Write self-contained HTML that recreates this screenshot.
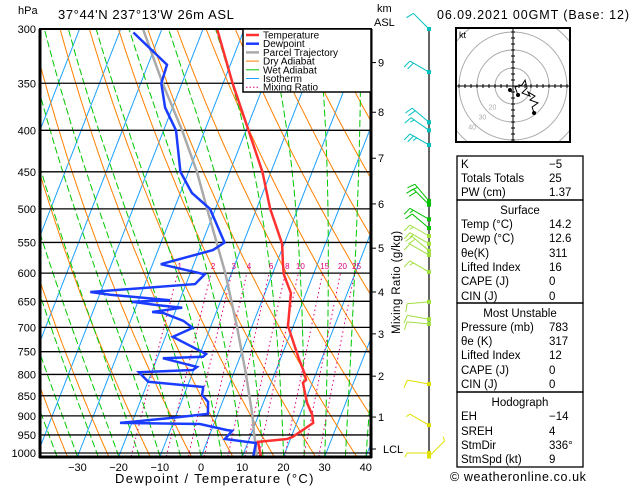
<!DOCTYPE html>
<html><head><meta charset="utf-8">
<style>
body{margin:0;background:#fff;}
svg{display:block;font-family:"Liberation Sans",sans-serif;}
</style></head>
<body>
<svg id="c" width="629" height="486" viewBox="0 0 629 486" xmlns="http://www.w3.org/2000/svg">
<defs><clipPath id="plotclip"><rect x="41" y="29" width="330" height="428"/></clipPath>
<clipPath id="hodoclip"><rect x="457" y="29" width="112" height="112"/></clipPath></defs>
<rect x="0" y="0" width="629" height="486" fill="#fff"/>
<g id="bg" clip-path="url(#plotclip)"></g>
<g id="isobars"></g>
<g id="profiles" clip-path="url(#plotclip)"></g>
<g id="axes"></g>
<g id="wind"></g>
<g id="hodo"></g>
<g id="table"></g>
</svg>
<script>
// ---- data ----
const pressureLevels=[300,350,400,450,500,550,600,650,700,750,800,850,900,950,1000];
const tempTicks=[-30,-20,-10,0,10,20,30,40];
const tempP=[1008,969,961,955,918,897,867,819,813,795,761,697,635,602,586,552,500,450,400,350,300];
const tempT=[14.4,12.4,19.2,20.4,24.0,23.0,20.6,17.7,18.2,17.0,14.1,8.7,6.3,2.8,1.7,-0.5,-6.7,-12.1,-19.4,-27.7,-36.6];
const dewP=[1008,972,969,961,939,937,921,918,905,895,865,848,829,817,795,790,783,764,761,755,719,701,687,672,670,662,657,651,648,638,633,619,602,585,562,550,500,478,450,400,375,350,332,303];
const dewT=[12.6,12.0,9.7,4.1,5.1,3.8,-3.4,-22.9,-10.5,-2.4,-3.5,-5.6,-6.1,-19.9,-23.1,-10.2,-9.5,-18.6,-9.0,-8.5,-18.2,-14.2,-17.2,-22.8,-25.6,-18.7,-25.0,-31.4,-22.4,-37.4,-42.5,-17.8,-16.4,-28.0,-16.7,-14.6,-21.3,-27.2,-32.0,-37.0,-41.8,-45.0,-45.4,-56.6];
const parcelP=[1008,970,950,900,800,700,600,500,450,400,350,300];
const parcelT=[13.4,11.8,10.8,8.6,3.1,-3.5,-11.5,-22.0,-28.0,-35.5,-44.7,-54.6];
const mixRatios=[1,2,3,4,6,8,10,15,20,25];
const kmValues=[1,2,3,4,5,6,7,8,9];
const kmPressures=[903,804,713,633,559,493,433,380,330];
const windP=[300,339,391,400,417,489,494,515,528,540,552,563,570,598,651,684,693,822,924,1000,1010];
const windDir=[315,300,310,305,300,320,315,300,310,300,300,310,300,300,265,280,275,280,300,270,45];
const windSpd=[10,20,20,15,25,20,20,15,10,15,15,20,10,15,10,10,10,10,5,5,5];
const hodoU=[-1.7,2.8,1.1,5,6.7,7.8,5,9.4,8.3,12.2,9.4,13.9,10.6,11.7];
const hodoV=[-2.2,-5,-0.6,0.6,3.3,-1.1,-3.9,-5.6,-3.3,-5.6,-7.8,-9.4,-11.7,-15];
// ---- scales ----
const NS='http://www.w3.org/2000/svg';
function Y(p){return 29+Math.log(p/300)/Math.log(1000/300)*424;}
function X(T,p){return 201+4.12*T+0.39*(457-Y(p));}
function el(tag,attrs,parent){const e=document.createElementNS(NS,tag);for(const k in attrs)e.setAttribute(k,attrs[k]);parent.appendChild(e);return e;}
const bg=document.getElementById('bg'),iso=document.getElementById('isobars'),prof=document.getElementById('profiles'),ax=document.getElementById('axes'),wind=document.getElementById('wind'),hodo=document.getElementById('hodo'),tbl=document.getElementById('table');
function pathFrom(ps,ts){let d='';for(let i=0;i<ps.length;i++){d+=(i?'L':'M')+X(ts[i],ps[i]).toFixed(1)+' '+Y(ps[i]).toFixed(1);}return d;}
// isotherms
for(let T=-120;T<=40;T+=10){const e=el('line',{x1:X(T,1010),y1:Y(1010),x2:X(T,300),y2:Y(300),stroke:'#1aa0ff','stroke-width':1},bg);
}
// dry adiabats
for(let th=230;th<=470;th+=10){let ps=[],ts=[];for(let p=1010;p>=300;p-=10){ps.push(p);ts.push(th*Math.pow(p/1000,0.286)-273.15);}
const e=el('path',{d:pathFrom(ps,ts),fill:'none',stroke:'#ff8000','stroke-width':1},bg);
}
// moist adiabats
function es(Tc){return 6.112*Math.exp(17.67*Tc/(Tc+243.5));}
for(let T0=-40;T0<=40;T0+=5){let T=T0+273.15,ps=[],ts=[];for(let p=1010;p>=300;p-=5){ps.push(p);ts.push(T-273.15);
const e_=es(T-273.15),rs=0.622*e_/(p-e_);const dTdp=(287*T+2.5e6*rs)/(p*(1004+2.5e6*2.5e6*rs*0.622/(287*T*T)));T-=dTdp*5;}
const e=el('path',{d:pathFrom(ps,ts),fill:'none',stroke:'#00c800','stroke-width':1,'stroke-dasharray':'7 3'},bg);
}
// mixing ratio
function tdFromW(w,p){const e=w*p/(622+w);const l=Math.log(e/6.112);return 243.5*l/(17.67-l);}
mixRatios.forEach(w=>{let ps=[],ts=[];for(let p=1010;p>=600;p-=10){ps.push(p);ts.push(tdFromW(w,p));}
const e=el('path',{d:pathFrom(ps,ts),fill:'none',stroke:'#e0007a','stroke-width':1,'stroke-dasharray':'1.5 3'},bg);

const t=el('text',{x:X(tdFromW(w,600),600)+2,y:Y(600)-4,'font-size':8,fill:'#e0007a','text-anchor':'middle'},prof);t.textContent=w;
});
// isobars + labels
pressureLevels.forEach(p=>{const y=Y(p);const l=el('line',{x1:40,y1:y,x2:371,y2:y,stroke:'#000','stroke-width':1.3},iso);

const t=el('text',{x:36,y:y+4,'font-size':11,'text-anchor':'end',fill:'#000'},ax);t.textContent=p;
});
// profiles
let e;
e=el('path',{d:pathFrom(parcelP,parcelT),fill:'none',stroke:'#aaa','stroke-width':2.5},prof);
e=el('path',{d:pathFrom(dewP,dewT),fill:'none',stroke:'#1a3cff','stroke-width':2.5},prof);
e=el('path',{d:pathFrom(tempP,tempT),fill:'none',stroke:'#ff3030','stroke-width':2.5},prof);
// frame
e=el('rect',{x:40,y:29,width:331,height:428,fill:'none',stroke:'#000','stroke-width':2},ax);
e=el('line',{x1:40,y1:29,x2:40,y2:458,stroke:'#000','stroke-width':3},ax);
e=el('line',{x1:39,y1:457,x2:372,y2:457,stroke:'#000','stroke-width':3},ax);
e=el('line',{x1:371,y1:29,x2:371,y2:458,stroke:'#000','stroke-width':3},ax);
tempTicks.forEach(T=>{const x=201+4.12*T;const t=el('text',{x:x,y:471,'font-size':11,'text-anchor':'middle'},ax);t.textContent=(T<0?'\u2212':'')+Math.abs(T);
});
kmValues.forEach((k,i)=>{const y=Y(kmPressures[i]);const l=el('line',{x1:371,y1:y,x2:376,y2:y,stroke:'#000','stroke-width':1},ax);

const t=el('text',{x:378,y:y+4,'font-size':11},ax);t.textContent=k;});
e=el('line',{x1:371,y1:449,x2:376,y2:449,stroke:'#000'},ax);
function txt(s,x,y,fs,attrs,name,parent){const t=el('text',Object.assign({x:x,y:y,'font-size':fs},attrs||{}),parent||ax);t.textContent=s;return t;}
txt('LCL',383,453,11,{},'lcl-label');
txt('hPa',18,14,11,{},'pressure-unit');
txt('km',377,12,11,{},'km-unit');txt('ASL',374,26,11,{},'km-unit-asl');
txt("37°44'N  237°13'W  26m  ASL",58,19,13,{'letter-spacing':'0.6'},'chart-title');
txt('06.09.2021  00GMT  (Base: 12)',437,19,12.5,{'letter-spacing':'0.9'},'date-title');
txt('Dewpoint / Temperature (°C)',115,483,13,{'letter-spacing':'1.3'},'x-axis-title');
txt('Mixing Ratio (g/kg)',400,334,11.5,{transform:'rotate(-90 400 334)','letter-spacing':'0.4'},'y-axis-title-mixing-ratio');
// legend
e=el('rect',{x:243,y:29,width:128,height:63,fill:'#fff',stroke:'#000','stroke-width':1.5},ax);
const leg=[['Temperature','#ff3030',2.5,''],['Dewpoint','#1a3cff',2.5,''],['Parcel Trajectory','#aaa',2.5,''],['Dry Adiabat','#ff8000',1,''],['Wet Adiabat','#00c800',1,''],['Isotherm','#1aa0ff',1,''],['Mixing Ratio','#e0007a',1,'1.5 2']];
leg.forEach((L,i)=>{const y=35+i*8.7;const l=el('line',{x1:246,y1:y,x2:259,y2:y,stroke:L[1],'stroke-width':L[2],'stroke-dasharray':L[3]},ax);

txt(L[0],263,y+3.5,10,{},'legend-entry');});
// wind barbs
e=el('line',{x1:429,y1:29,x2:429,y2:458,stroke:'#000','stroke-width':1.2},wind);
windP.forEach((p,i)=>{const y=Math.min(Y(p),458);const col=p<430?'#00c0c0':(p<530?'#00c000':(p<700?'#a0e040':'#e0e000'));
const a=windDir[i]*Math.PI/180,dx=Math.sin(a),dy=-Math.cos(a);const L=22;
const g=el('g',{stroke:col,'stroke-width':1,fill:'none'},wind);
el('line',{x1:429,y1:y,x2:429+dx*L,y2:y+dy*L},g);
let n=Math.round(windSpd[i]/5),k=0;const px=-dy,py=dx;
while(n>0){const bx=429+dx*(L-k*4),by=y+dy*(L-k*4);const len=n>=2?8:4;
el('line',{x1:bx,y1:by,x2:bx+px*len*-1+dx*2,y2:by+py*len*-1+dy*2},g);n-=n>=2?2:1;k++;}
el('rect',{x:427,y:y-2,width:4,height:4,fill:col,stroke:'none'},g);});
// hodograph
e=el('rect',{x:456,y:28,width:114,height:114,fill:'#fff',stroke:'#000','stroke-width':2},hodo);
const hx=513,hy=86,hs=1.8;
const hg=el('g',{'clip-path':'url(#hodoclip)'},hodo);
[10,20,30,40].forEach(r=>{const c=el('circle',{cx:hx,cy:hy,r:r*hs,fill:'none',stroke:'#aaa','stroke-width':1},hg);});
e=el('rect',{x:456,y:28,width:114,height:114,fill:'none',stroke:'#000','stroke-width':2},hodo);

el('line',{x1:457,y1:hy,x2:569,y2:hy,stroke:'#000'},hodo);el('line',{x1:hx,y1:29,x2:hx,y2:141,stroke:'#000'},hodo);
for(let k=-9;k<=9;k++){if(!k)continue;el('line',{x1:hx+k*6,y1:hy-2,x2:hx+k*6,y2:hy+2,stroke:'#000'},hodo);el('line',{x1:hx-2,y1:hy+k*6,x2:hx+2,y2:hy+k*6,stroke:'#000'},hodo);}
txt('kt',459,38,9,{},'hodograph-unit',hodo);
[10,20,30].forEach(r=>{const a=225*Math.PI/180;txt(String(r+10),hx+Math.sin(a)*(r+10)*hs*0.8-4,hy-Math.cos(a)*(r+10)*hs*0.8+3,7,{fill:'#aaa'},'hodograph-ring-label',hodo);});
let hd='';hodoU.forEach((u,i)=>{if(i===0)return;hd+=(i>1?'L':'M')+(hx+u*hs).toFixed(1)+' '+(hy-hodoV[i]*hs).toFixed(1);});
e=el('path',{d:hd,fill:'none',stroke:'#000','stroke-width':1},hodo);
[0,1,hodoU.length-1].forEach(i=>{const c=el('circle',{cx:hx+hodoU[i]*hs,cy:hy-hodoV[i]*hs,r:2,fill:'#000'},hodo);});
// table
const boxes=[[156,200],[200,303],[303,392],[392,467]];
boxes.forEach(b=>{const r=el('rect',{x:457,y:b[0],width:126,height:b[1]-b[0],fill:'none',stroke:'#000','stroke-width':1.3},tbl);});
const rows=[['K','\u22125',168],['Totals Totals','25',182],['PW (cm)','1.37',196],
['#Surface','',214],['Temp (°C)','14.2',228],['Dewp (°C)','12.6',242],['θe(K)','311',257],['Lifted Index','16',271],['CAPE (J)','0',285],['CIN (J)','0',300],
['#Most Unstable','',317],['Pressure (mb)','783',331],['θe (K)','317',345],['Lifted Index','12',359],['CAPE (J)','0',374],['CIN (J)','0',388],
['#Hodograph','',406],['EH','\u221214',420],['SREH','4',435],['StmDir','336°',449],['StmSpd (kt)','9',463]];
rows.forEach(r=>{if(r[0][0]==='#'){txt(r[0].slice(1),520,r[2],11.5,{'text-anchor':'middle'},'table-heading',tbl);}
else{txt(r[0],461,r[2],11.5,{},'table-label',tbl);txt(r[1],549,r[2],11.5,{},'table-value',tbl);}});
txt('© weatheronline.co.uk',450,481,12.5,{'letter-spacing':'0.6'},'copyright',tbl);
</script>
</body></html>
